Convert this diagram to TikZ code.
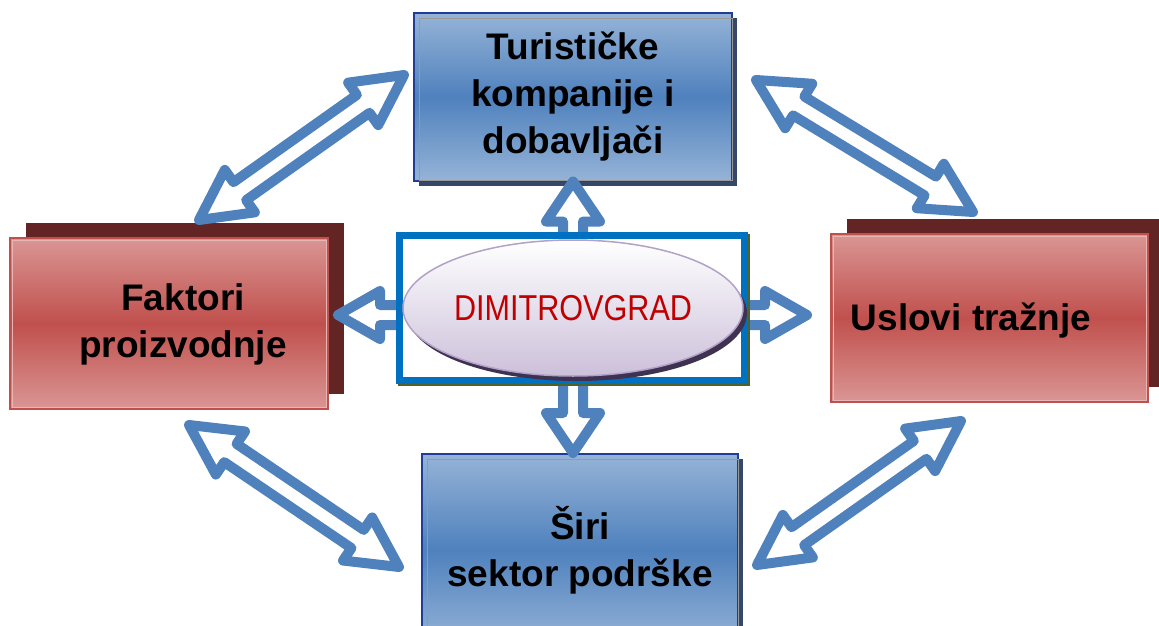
\documentclass[tikz,border=0pt]{standalone}
\usepackage{fontspec}
\setmainfont{Liberation Sans}
\newfontfamily\narrowfont{Liberation Sans}[FakeStretch=0.85]
\usetikzlibrary{calc,shapes.geometric,shadows}

\definecolor{arrowblue}{HTML}{4F81BD}
\definecolor{bluelight}{HTML}{95B3D7}
\definecolor{bluemid}{HTML}{4F81BD}
\definecolor{blueborder}{HTML}{1F3C96}
\definecolor{blueshadow}{HTML}{35486A}
\definecolor{redlight}{HTML}{DA9694}
\definecolor{redmid}{HTML}{C0504D}
\definecolor{redshadow}{HTML}{632523}
\definecolor{frameblue}{HTML}{0070C0}
\definecolor{frameshadow}{HTML}{4F6228}
\definecolor{lavender}{HTML}{CCC0DA}
\definecolor{lavborder}{HTML}{B3A2C7}
\definecolor{lavshadow}{HTML}{3F3151}
\definecolor{cityred}{HTML}{C00000}

\tikzset{
  blockarrow/.style={draw=arrowblue, line width=10pt, line join=round, fill=white},
  bluebox/.style={rectangle, draw=blueborder, line width=2pt,
    top color=bluelight, bottom color=bluelight, middle color=bluemid,
    general shadow={shadow xshift=5pt, shadow yshift=-5pt, fill=blueshadow}},
  redbox/.style={rectangle, draw=redmid, line width=2pt,
    top color=redlight, bottom color=redlight, middle color=redmid,
    general shadow={shadow xshift=16pt, shadow yshift=15pt, fill=redshadow}},
  innerline/.style={line width=1pt},
  labeltext/.style={font=\bfseries\fontsize{37}{47}\selectfont, align=center, text=black},
  framebox/.style={rectangle, draw=frameblue, line width=7pt, fill=white,
    preaction={draw=frameshadow, line width=7pt, transform canvas={shift={(2pt,-2pt)}}}},
  cityellipse/.style={ellipse, draw=lavborder, line width=1.5pt, inner sep=0pt,
    top color=white, bottom color=lavender,
    general shadow={shadow xshift=4pt, shadow yshift=-5pt, fill=lavshadow},
    font=\narrowfont\fontsize{36}{40}\selectfont, text=cityred}
}

% #1 tail, #2 tip, #3 head half-width, #4 shaft half-width, #5 head length
\newcommand{\oneblock}[5]{%
  \draw[blockarrow] ($(#1)!#4!90:(#2)$)
    -- ($(#2)!#5!(#1)!#4!-90:(#1)$) -- ($(#2)!#5!(#1)!#3!-90:(#1)$)
    -- (#2)
    -- ($(#2)!#5!(#1)!#3!90:(#1)$) -- ($(#2)!#5!(#1)!#4!90:(#1)$)
    -- ($(#1)!#4!-90:(#2)$) -- cycle;
}
\newcommand{\dblblock}[5]{%
  \draw[blockarrow] (#1)
    -- ($(#1)!#5!(#2)!#3!90:(#2)$) -- ($(#1)!#5!(#2)!#4!90:(#2)$)
    -- ($(#2)!#5!(#1)!#4!-90:(#1)$) -- ($(#2)!#5!(#1)!#3!-90:(#1)$)
    -- (#2)
    -- ($(#2)!#5!(#1)!#3!90:(#1)$) -- ($(#2)!#5!(#1)!#4!90:(#1)$)
    -- ($(#1)!#5!(#2)!#4!-90:(#2)$) -- ($(#1)!#5!(#2)!#3!-90:(#2)$)
    -- cycle;
}

\begin{document}
\begin{tikzpicture}[x=1pt, y=-1pt]
  \useasboundingbox (0,0) rectangle (1159,626);

  \node[bluebox, minimum width=318pt, minimum height=167pt] (firme) at (573,97) {};
  \node[bluebox, minimum width=316pt, minimum height=192pt] (podrska) at (580,550) {};
  \node[redbox, minimum width=318pt, minimum height=171pt] (faktori) at (169,323.5) {};
  \node[redbox, minimum width=317pt, minimum height=168pt] (uslovi) at (989.5,318) {};
  \foreach \b in {firme,podrska}
    \draw[innerline, gray!80] ([shift={(6pt,-6pt)}]\b.north west) rectangle ([shift={(-1pt,1pt)}]\b.south east);
  \foreach \b in {faktori,uslovi}
    \draw[innerline, redlight!70!white] ([shift={(3pt,-3pt)}]\b.north west) rectangle ([shift={(-3pt,3pt)}]\b.south east);
  \node[labeltext] (firmetxt) at (firme) {Turističke\\kompanije i\\dobavljači};
  \node[labeltext] (podrskatxt) at (podrska) {Širi\\sektor podrške};
  \node[labeltext] (faktoritxt) at (183,324) {Faktori\\proizvodnje};
  \node[labeltext] (uslovitxt) at (971,321) {Uslovi tražnje};

  \coordinate (sredina) at (573,315);
  \coordinate (lijevo) at (338,315);
  \coordinate (desno) at (807,315);
  \oneblock{sredina}{sredina |- firme.south}{27pt}{10pt}{40pt}
  \oneblock{sredina}{sredina |- podrska.north}{27pt}{10pt}{40pt}
  \oneblock{sredina}{lijevo}{24pt}{10pt}{42pt}
  \oneblock{sredina}{desno}{24pt}{10pt}{42pt}

  \node[framebox, minimum width=345pt, minimum height=145pt] (okvir) at (572,308) {};
  \node[cityellipse, minimum width=340pt, minimum height=136pt] (grad) at (573,308) {DIMITROVGRAD};

  \coordinate (gl1) at (404,75);
  \coordinate (gl2) at (199,220);
  \coordinate (gd1) at (756,80);
  \coordinate (gd2) at (973,212);
  \coordinate (dl1) at (189,425);
  \coordinate (dl2) at (399,567);
  \coordinate (dd1) at (961,421);
  \coordinate (dd2) at (757,565);
  \dblblock{gl1}{gl2}{26pt}{11pt}{50pt}
  \dblblock{gd1}{gd2}{26pt}{11pt}{50pt}
  \dblblock{dl1}{dl2}{26pt}{11pt}{50pt}
  \dblblock{dd1}{dd2}{26pt}{11pt}{50pt}
\end{tikzpicture}
\end{document}
